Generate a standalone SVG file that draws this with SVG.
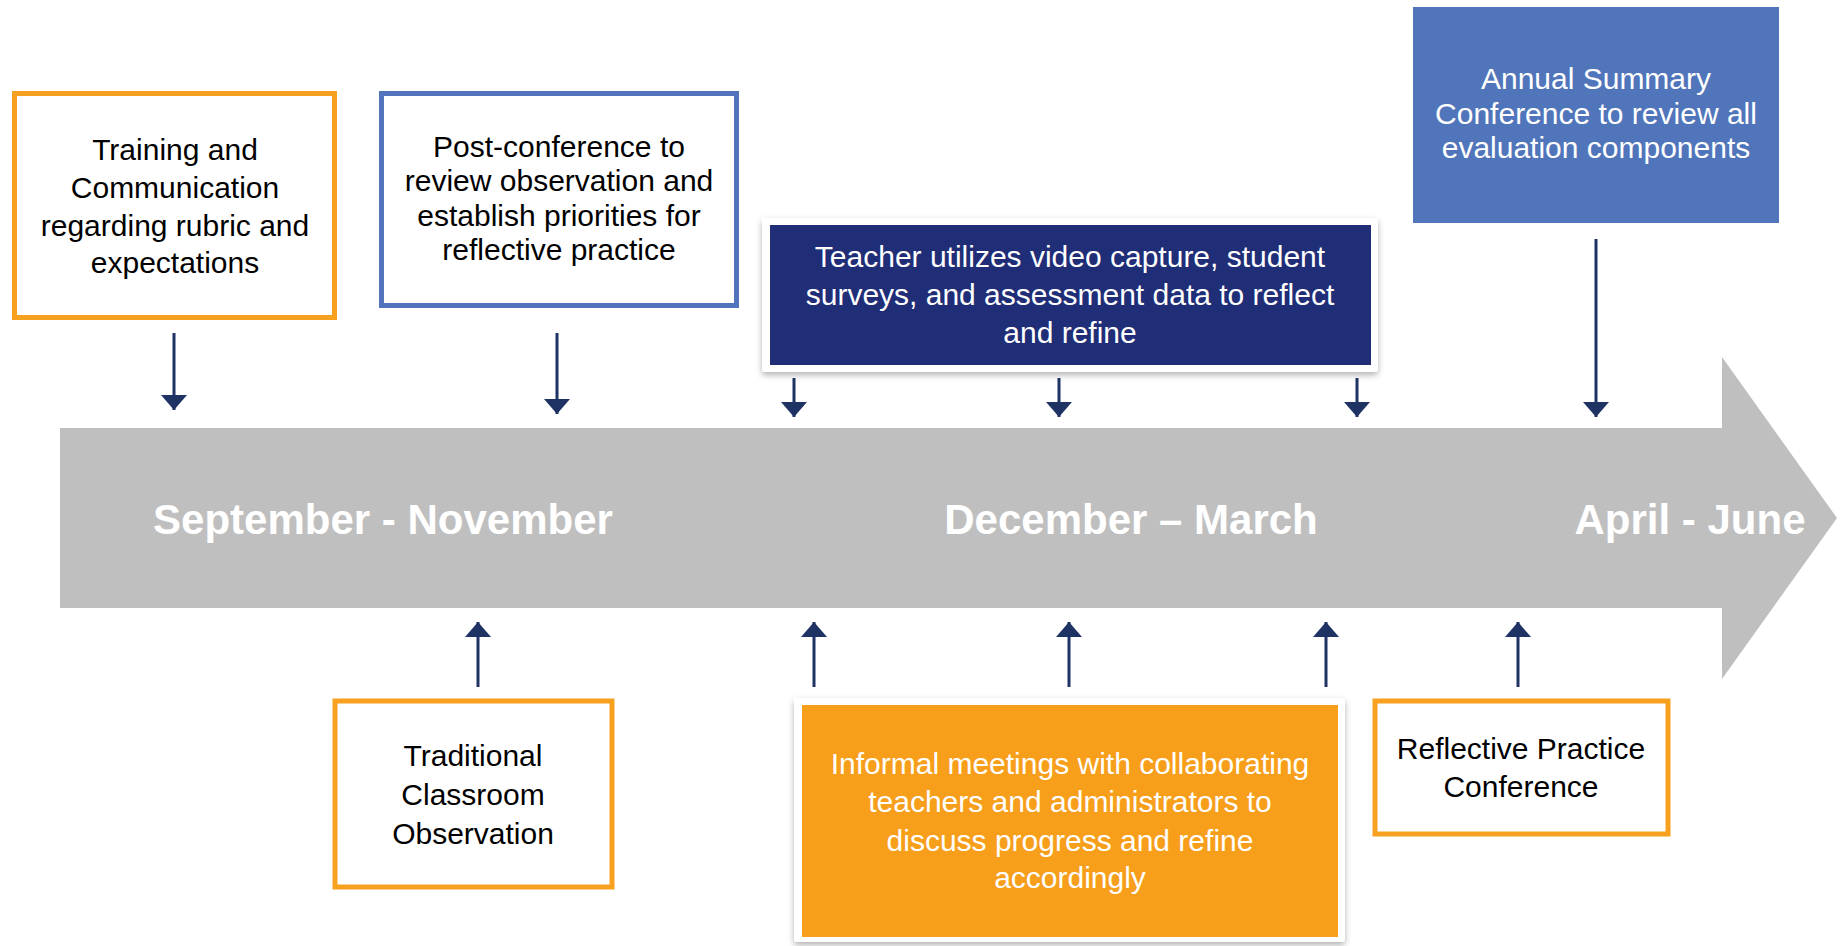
<svg xmlns="http://www.w3.org/2000/svg" width="1843" height="946" viewBox="0 0 1843 946">
  <defs>
    <style>
      .txt { font-family: "Liberation Sans", Arial, sans-serif; font-size: 30px; text-anchor: middle; }
      .dark { fill: #000000; }
      .light { fill: #ffffff; }
      .period { font-family: "Liberation Sans", Arial, sans-serif; font-size: 42px; font-weight: bold; fill: #ffffff; text-anchor: middle; }
      .outline-orange { fill: #ffffff; stroke: #F7A11E; stroke-width: 5; }
      .outline-blue { fill: #ffffff; stroke: #5174BC; stroke-width: 5; }
      .frame { fill: #ffffff; filter: url(#shadow); }
      .conn { stroke: #1F3264; stroke-width: 3; fill: none; marker-end: url(#head); }
    </style>
    <marker id="head" viewBox="0 0 15 26" markerWidth="15" markerHeight="26" markerUnits="userSpaceOnUse" refX="15" refY="13" orient="auto">
      <path d="M0,0 L15,13 L0,26 Z" fill="#1F3264"/>
    </marker>
    <filter id="shadow" x="-5%" y="-10%" width="110%" height="125%">
      <feDropShadow dx="0" dy="3" stdDeviation="3" flood-color="#000000" flood-opacity="0.3"/>
    </filter>
  </defs>

  <rect width="1843" height="946" fill="#ffffff"/>

  <!-- timeline band -->
  <g id="timeline">
    <polygon points="60,428 1722,428 1722,357 1837,518 1722,679 1722,608 60,608" fill="#BFBFBF"/>
    <text class="period" x="383" y="534">September - November</text>
    <text class="period" x="1131" y="534">December – March</text>
    <text class="period" x="1690" y="534">April - June</text>
  </g>

  <!-- connectors -->
  <g id="connectors">
    <line class="conn" x1="174" y1="333" x2="174" y2="410"/>
    <line class="conn" x1="557" y1="333" x2="557" y2="414"/>
    <line class="conn" x1="794" y1="378" x2="794" y2="417"/>
    <line class="conn" x1="1059" y1="378" x2="1059" y2="417"/>
    <line class="conn" x1="1357" y1="378" x2="1357" y2="417"/>
    <line class="conn" x1="1596" y1="239" x2="1596" y2="417"/>
    <line class="conn" x1="478" y1="687" x2="478" y2="622"/>
    <line class="conn" x1="814" y1="687" x2="814" y2="622"/>
    <line class="conn" x1="1069" y1="687" x2="1069" y2="622"/>
    <line class="conn" x1="1326" y1="687" x2="1326" y2="622"/>
    <line class="conn" x1="1518" y1="687" x2="1518" y2="622"/>
  </g>

  <g id="training">
    <rect class="outline-orange" x="14.5" y="93.5" width="320" height="224"/>
    <text class="txt dark" x="175" y="160">Training and</text>
    <text class="txt dark" x="175" y="198">Communication</text>
    <text class="txt dark" x="175" y="236">regarding rubric and</text>
    <text class="txt dark" x="175" y="273">expectations</text>
  </g>

  <g id="post-conference">
    <rect class="outline-blue" x="381.5" y="93.5" width="355" height="212"/>
    <text class="txt dark" x="559" y="157">Post-conference to</text>
    <text class="txt dark" x="559" y="191">review observation and</text>
    <text class="txt dark" x="559" y="226">establish priorities for</text>
    <text class="txt dark" x="559" y="260">reflective practice</text>
  </g>

  <g id="teacher-reflect">
    <rect class="frame" x="762" y="218" width="616" height="154" rx="3"/>
    <rect x="770" y="225" width="601" height="140" fill="#202D77"/>
    <text class="txt light" x="1070" y="267">Teacher utilizes video capture, student</text>
    <text class="txt light" x="1070" y="305">surveys, and assessment data to reflect</text>
    <text class="txt light" x="1070" y="343">and refine</text>
  </g>

  <g id="annual-summary">
    <rect x="1413" y="7" width="366" height="216" fill="#5175BB"/>
    <text class="txt light" x="1596" y="89">Annual Summary</text>
    <text class="txt light" x="1596" y="124">Conference to review all</text>
    <text class="txt light" x="1596" y="158">evaluation components</text>
  </g>

  <g id="classroom-observation">
    <rect class="outline-orange" x="335" y="701" width="277" height="186"/>
    <text class="txt dark" x="473" y="766">Traditional</text>
    <text class="txt dark" x="473" y="805">Classroom</text>
    <text class="txt dark" x="473" y="844">Observation</text>
  </g>

  <g id="informal-meetings">
    <rect class="frame" x="794" y="698" width="551" height="244" rx="3"/>
    <rect x="802" y="705" width="536" height="232" fill="#F79E1B"/>
    <text class="txt light" x="1070" y="774">Informal meetings with collaborating</text>
    <text class="txt light" x="1070" y="812">teachers and administrators to</text>
    <text class="txt light" x="1070" y="851">discuss progress and refine</text>
    <text class="txt light" x="1070" y="888">accordingly</text>
  </g>

  <g id="reflective-practice">
    <rect class="outline-orange" x="1375" y="701" width="293" height="133"/>
    <text class="txt dark" x="1521" y="759">Reflective Practice</text>
    <text class="txt dark" x="1521" y="797">Conference</text>
  </g>
</svg>
